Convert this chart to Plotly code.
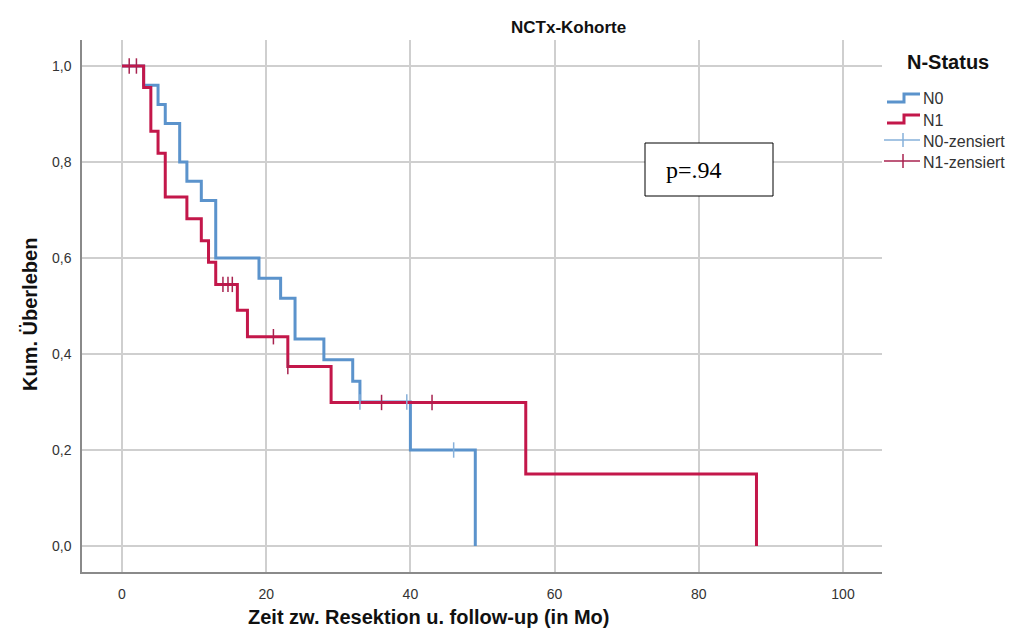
import plotly.graph_objects as go

# ---- data ----
n0_time = [0, 3, 5, 6, 8, 9, 11, 13, 19, 22, 24, 28, 32, 33, 40, 49]
n0_surv = [1.0, 0.96, 0.92, 0.88, 0.80, 0.76, 0.72, 0.60, 0.558, 0.516, 0.431, 0.388, 0.343, 0.30, 0.20, 0.0]
n0_cens_time = [33, 39.5, 46]
n0_cens_surv = [0.30, 0.30, 0.20]

n1_time = [0, 3, 4, 5, 6, 9, 11, 12, 13, 16, 17.4, 23, 29, 56, 88]
n1_surv = [1.0, 0.955, 0.864, 0.818, 0.727, 0.682, 0.636, 0.591, 0.545, 0.491, 0.436, 0.374, 0.299, 0.150, 0.0]
n1_cens_time = [1, 2, 14, 14.7, 15.3, 21, 23, 36, 43]
n1_cens_surv = [1.0, 1.0, 0.545, 0.545, 0.545, 0.436, 0.374, 0.299, 0.299]

x_ticks = [0, 20, 40, 60, 80, 100]
y_ticks = [0.0, 0.2, 0.4, 0.6, 0.8, 1.0]
y_tick_labels = ["0,0", "0,2", "0,4", "0,6", "0,8", "1,0"]

legend_title = "N-Status"
legend_labels = ["N0", "N1", "N0-zensiert", "N1-zensiert"]

BLUE = "#5b93cc"
RED = "#c3174a"
BLUE_C = "#86b0da"
RED_C = "#a8224f"
FONT = "Liberation Sans, Arial, sans-serif"

W, H = 1020, 644
L, R, T, B = 82, 882, 40, 572


def px(x):
    return (x - L) / (R - L)


def py(y):
    return 1 - (y - T) / (B - T)


fig = go.Figure()
fig.add_trace(go.Scatter(x=n0_time, y=n0_surv, mode="lines", line=dict(shape="hv", color=BLUE, width=3),
                         name="N0", showlegend=False))
fig.add_trace(go.Scatter(x=n1_time, y=n1_surv, mode="lines", line=dict(shape="hv", color=RED, width=3),
                         name="N1", showlegend=False))
fig.add_trace(go.Scatter(x=n0_cens_time, y=n0_cens_surv, mode="markers",
                         marker=dict(symbol="line-ns-open", size=11, color=BLUE_C,
                                     line=dict(color=BLUE_C, width=1.5)),
                         name="N0-zensiert", showlegend=False))
fig.add_trace(go.Scatter(x=n1_cens_time, y=n1_cens_surv, mode="markers",
                         marker=dict(symbol="line-ns-open", size=11, color=RED_C,
                                     line=dict(color=RED_C, width=1.5)),
                         name="N1-zensiert", showlegend=False))

shapes = []
annotations = []

# p-value box
shapes.append(dict(type="rect", xref="paper", yref="paper", x0=px(645), x1=px(773), y0=py(196), y1=py(143),
                   line=dict(color="black", width=1), fillcolor="white", layer="above"))
annotations.append(dict(text="p=.94", xref="paper", yref="paper", x=px(664), y=py(170), xanchor="left",
                        yanchor="middle", showarrow=False,
                        font=dict(family="Liberation Serif, Times New Roman, serif", size=24, color="black")))

# title & axis titles
annotations.append(dict(text="<b>NCTx-Kohorte</b>", xref="paper", yref="paper", x=px(568), y=py(27),
                        xanchor="center", yanchor="middle", showarrow=False,
                        font=dict(family=FONT, size=17, color="#111")))
annotations.append(dict(text="<b>Zeit zw. Resektion u. follow-up (in Mo)</b>", xref="paper", yref="paper",
                        x=px(428), y=py(617), xanchor="center", yanchor="middle", showarrow=False,
                        font=dict(family=FONT, size=20, color="#111")))
annotations.append(dict(text="<b>Kum. Überleben</b>", xref="paper", yref="paper", x=px(30), y=py(315),
                        xanchor="center", yanchor="middle", showarrow=False, textangle=-90,
                        font=dict(family=FONT, size=20, color="#111")))

# custom legend
annotations.append(dict(text="<b>" + legend_title + "</b>", xref="paper", yref="paper", x=px(948), y=py(62),
                        xanchor="center", yanchor="middle", showarrow=False,
                        font=dict(family=FONT, size=20, color="#111")))
leg_y = [98, 119, 140, 161]
for i, (lab, yy) in enumerate(zip(legend_labels, leg_y)):
    annotations.append(dict(text=lab, xref="paper", yref="paper", x=px(921), y=py(yy + 1), xanchor="left",
                            yanchor="middle", showarrow=False, font=dict(family=FONT, size=16, color="#333")))
    if i < 2:
        col = BLUE if i == 0 else RED
        path = "M {a},{b} L {c},{b} L {c},{d} L {e},{d}".format(
            a=px(887), b=py(yy + 4), c=px(904), d=py(yy - 4), e=px(920))
        shapes.append(dict(type="path", xref="paper", yref="paper", path=path,
                           line=dict(color=col, width=3)))
    else:
        col = BLUE_C if i == 2 else RED_C
        shapes.append(dict(type="line", xref="paper", yref="paper", x0=px(884), x1=px(920), y0=py(yy), y1=py(yy),
                           line=dict(color=col, width=1.5)))
        shapes.append(dict(type="line", xref="paper", yref="paper", x0=px(903), x1=px(903), y0=py(yy - 7),
                           y1=py(yy + 7), line=dict(color=col, width=1.5)))

fig.update_layout(
    width=W, height=H,
    margin=dict(l=L, r=W - R, t=T, b=H - B),
    paper_bgcolor="white", plot_bgcolor="white",
    shapes=shapes, annotations=annotations,
    showlegend=False,
    font=dict(family=FONT, color="#333"),
)
fig.update_xaxes(range=[(L - 122) / 7.21, (R - 122) / 7.21], tickvals=x_ticks,
                 ticktext=[str(v) for v in x_ticks], showgrid=True, gridcolor="#cfcfcf", gridwidth=1.5,
                 zeroline=False, showline=True, linecolor="#8a8a8a", linewidth=1.5, ticks="",
                 tickfont=dict(family=FONT, size=14, color="#333"), ticklabelstandoff=8)
fig.update_yaxes(range=[(546 - B) / 480, (546 - T) / 480], tickvals=y_ticks, ticktext=y_tick_labels,
                 showgrid=True, gridcolor="#cfcfcf", gridwidth=1.5, zeroline=False, showline=True,
                 linecolor="#8a8a8a", linewidth=1.5, ticks="",
                 tickfont=dict(family=FONT, size=14, color="#333"), ticklabelstandoff=6)

fig.write_html("out.html")
